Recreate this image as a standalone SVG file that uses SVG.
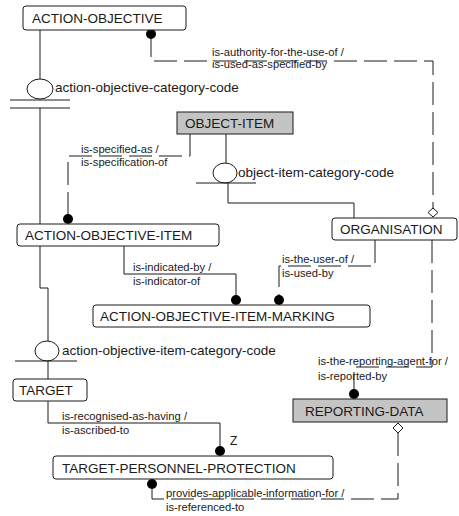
<svg xmlns="http://www.w3.org/2000/svg" width="459" height="516" viewBox="0 0 459 516">
  <defs>
    <style>
      .box { fill: #ffffff; stroke: #1a1a1a; stroke-width: 1; }
      .ind { fill: #c4c4c4; stroke: #1a1a1a; stroke-width: 1; }
      .name { font-family: "Liberation Sans", Arial, sans-serif; font-size: 13.5px; fill: #1a1a1a; }
      .lbl { font-family: "Liberation Sans", Arial, sans-serif; font-size: 11.2px; fill: #1a1a1a; }
      .ln { fill: none; stroke: #1a1a1a; stroke-width: 1; }
      .dl { fill: none; stroke: #1a1a1a; stroke-width: 1; stroke-dasharray: 23 7; }
      .dot { fill: #000000; }
      .disc { fill: #ffffff; stroke: #1a1a1a; stroke-width: 1; }
      .dia { fill: #ffffff; stroke: #1a1a1a; stroke-width: 1; }
    </style>
  </defs>
  <rect width="459" height="516" fill="#ffffff"/>

  <!-- relationship and category lines -->
  <g id="connectors">
    <!-- ACTION-OBJECTIVE category -->
    <path class="ln" d="M40,30 V79"/>
    <ellipse class="disc" cx="40" cy="89" rx="13" ry="10"/>
    <path class="ln" d="M10,100 H70 M10,108 H70 M40,108 V224"/>
    <text class="name" x="55" y="92">action-objective-category-code</text>

    <!-- ACTION-OBJECTIVE to ORGANISATION -->
    <path class="dl" d="M151,34 V61 H433 V208"/>
    <circle class="dot" cx="151" cy="34" r="5"/>
    <polygon class="dia" points="433,208 438,212.5 433,217 428,212.5"/>
    <text class="lbl" x="212" y="56">is-authority-for-the-use-of /</text>
    <text class="lbl" x="212" y="68">is-used-as-specified-by</text>

    <!-- OBJECT-ITEM to ACTION-OBJECTIVE-ITEM -->
    <path class="dl" d="M190,134 V156 H68 V214"/>
    <circle class="dot" cx="68" cy="219" r="5"/>
    <text class="lbl" x="81" y="153">is-specified-as /</text>
    <text class="lbl" x="81" y="166">is-specification-of</text>

    <!-- OBJECT-ITEM category -->
    <path class="ln" d="M226,134 V163"/>
    <ellipse class="disc" cx="225" cy="173" rx="12" ry="10"/>
    <path class="ln" d="M196,183 H256 M228,183 V203 H354 V218"/>
    <text class="name" x="238" y="177">object-item-category-code</text>

    <!-- ACTION-OBJECTIVE-ITEM to ACTION-OBJECTIVE-ITEM-MARKING -->
    <path class="ln" d="M124,246 V274 H236 V295"/>
    <circle class="dot" cx="236" cy="300" r="5"/>
    <text class="lbl" x="133" y="271">is-indicated-by /</text>
    <text class="lbl" x="133" y="285">is-indicator-of</text>

    <!-- ORGANISATION to ACTION-OBJECTIVE-ITEM-MARKING -->
    <path class="dl" d="M375,240 V266 H279 V295"/>
    <circle class="dot" cx="279" cy="300" r="5"/>
    <text class="lbl" x="282" y="263">is-the-user-of /</text>
    <text class="lbl" x="282" y="277">is-used-by</text>

    <!-- ACTION-OBJECTIVE-ITEM category -->
    <path class="ln" d="M40,246 V288 H48 V341"/>
    <ellipse class="disc" cx="47" cy="351" rx="12" ry="10"/>
    <path class="ln" d="M15,361 H77 M48,361 V379"/>
    <text class="name" x="62" y="355">action-objective-item-category-code</text>

    <!-- ORGANISATION to REPORTING-DATA -->
    <path class="dl" d="M432,240 V367 H354 V389"/>
    <circle class="dot" cx="354" cy="394" r="5"/>
    <text class="lbl" x="318" y="365">is-the-reporting-agent-for /</text>
    <text class="lbl" x="318" y="380">is-reported-by</text>

    <!-- TARGET to TARGET-PERSONNEL-PROTECTION -->
    <path class="ln" d="M48,401 V423 H220 V446"/>
    <circle class="dot" cx="220" cy="451" r="5"/>
    <text class="lbl" x="62" y="420">is-recognised-as-having /</text>
    <text class="lbl" x="62" y="434">is-ascribed-to</text>
    <text class="lbl" x="230" y="445" style="font-size:12px">Z</text>

    <!-- REPORTING-DATA to TARGET-PERSONNEL-PROTECTION -->
    <polygon class="dia" points="398,423 403,428 398,433 393,428"/>
    <path class="dl" d="M398,433 V499 H152 V489"/>
    <circle class="dot" cx="152" cy="484" r="5"/>
    <text class="lbl" x="166" y="497">provides-applicable-information-for /</text>
    <text class="lbl" x="166" y="511">is-referenced-to</text>
  </g>

  <g id="action-objective">
    <rect class="box" x="23" y="6" width="163" height="24" rx="3"/>
    <text class="name" x="32" y="23">ACTION-OBJECTIVE</text>
  </g>
  <g id="object-item">
    <rect class="ind" x="177" y="112" width="116" height="22"/>
    <text class="name" x="185" y="128">OBJECT-ITEM</text>
  </g>
  <g id="action-objective-item">
    <rect class="box" x="17" y="224" width="202" height="22" rx="3"/>
    <text class="name" x="25" y="240">ACTION-OBJECTIVE-ITEM</text>
  </g>
  <g id="organisation">
    <rect class="box" x="332" y="218" width="125" height="22" rx="3"/>
    <text class="name" x="340" y="234">ORGANISATION</text>
  </g>
  <g id="action-objective-item-marking">
    <rect class="box" x="93" y="305" width="277" height="22" rx="3"/>
    <text class="name" x="100" y="321">ACTION-OBJECTIVE-ITEM-MARKING</text>
  </g>
  <g id="target">
    <rect class="box" x="13" y="379" width="74" height="22" rx="3"/>
    <text class="name" x="19" y="395">TARGET</text>
  </g>
  <g id="reporting-data">
    <rect class="ind" x="293" y="399" width="154" height="23"/>
    <text class="name" x="305" y="416">REPORTING-DATA</text>
  </g>
  <g id="target-personnel-protection">
    <rect class="box" x="53" y="456" width="280" height="23" rx="3"/>
    <text class="name" x="62" y="473">TARGET-PERSONNEL-PROTECTION</text>
  </g>
</svg>
